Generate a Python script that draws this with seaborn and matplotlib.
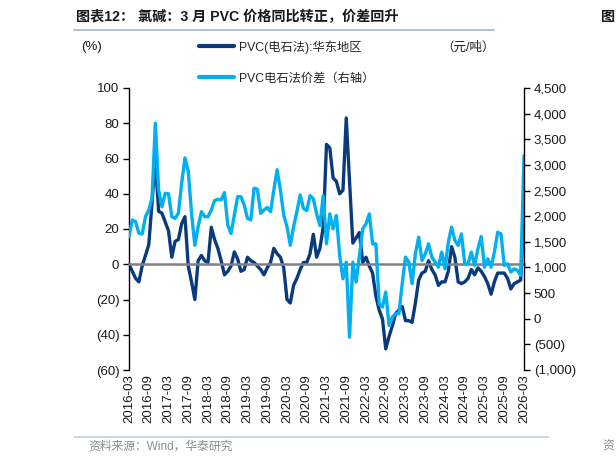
import numpy as np
import pandas as pd
import matplotlib
matplotlib.use("Agg")
import matplotlib.pyplot as plt
import seaborn as sns
from matplotlib.lines import Line2D
from matplotlib.ticker import FuncFormatter, MultipleLocator

sns.set_style("white")
plt.rcParams['font.family'] = ['Liberation Sans', 'Noto Sans CJK SC', 'DejaVu Sans']
plt.rcParams['axes.unicode_minus'] = False

# 月度数据 2016-03 ~ 2026-03
months = [str(p) for p in pd.period_range('2016-03', '2026-03', freq='M')]
tick_labels = months[::6]

# PVC(电石法):华东地区 同比 (%)
pvc_yoy = [
    0, -4, -8, -10, -1, 5, 11, 35, 60, 30, 29, 24, 19, 4, 13, 14, 23, 27, -1, -10,
    -20, 2, 5, 2, 1, 21, 14, 9, 2, -6, -4, -1, 7, 3, -4, -3, 4, 2, 1, -1,
    -3, -6, -2, 1, 9, 6, 4, -2, -20, -22, -12, -8, -3, 1, 1, 6, 17, 4, 9, 21,
    68, 66, 49, 47, 40, 42, 83, 47, 12, 15, 18, 1, 4, -1, -5, -18, -26, -31, -48, -41,
    -35, -28, -26, -24, -32, -32, -33, -22, -9, -5, -4, 2, -3, -6, -12, -10, -10, -4, 10, 4,
    -10, -11, -10, -8, -3, -6, -2, -4, -7, -11, -17, -10, -5, -5, -5, -8, -14, -11, -10, -9,
    30,
]

# PVC电石法价差 (元/吨, 右轴)
pvc_spread = [
    1600, 1926, 1893, 1666, 1653, 1990, 2120, 2349, 3812, 2512, 2185, 2447, 2436, 1990, 1957, 2056, 2644, 3137, 2874, 2056,
    1433, 1792, 2087, 1990, 1990, 2119, 2304, 2330, 2316, 2460, 1826, 1663, 2022, 2380, 2380, 2218, 1957, 1925, 2545, 2525,
    2056, 2119, 2170, 2087, 2512, 2906, 2512, 2022, 1792, 1433, 1792, 2087, 2414, 2153, 2108, 2402, 2338, 2045, 1818, 2402,
    1461, 2045, 1753, 2013, 1233, 779, 1104, -357, 1104, 714, 1233, 1753, 1850, 2045, 1461, 1461, 292, 227, 519, -130,
    32, 97, 97, 682, 1201, 1104, 682, 1266, 1591, 1136, 1266, 1461, 1201, 1104, 1006, 1299, 974, 1493, 1786, 1526,
    1429, 1656, 1071, 1071, 1299, 1039, 1363, 1604, 1006, 1169, 1006, 1299, 1688, 1656, 1039, 1071, 909, 974, 941, 844,
    3182,
]

df = pd.DataFrame({'idx': np.arange(len(months)), 'month': months,
                   'yoy': pvc_yoy, 'spread': pvc_spread})

DARK = '#0B3A7C'
LIGHT = '#00B0F0'
W, H = 616, 466

fig = plt.figure(figsize=(W / 100, H / 100), dpi=100)
ax = fig.add_axes([129 / W, 1 - 370 / H, 395 / W, 282 / H])
ax2 = ax.twinx()

sns.lineplot(data=df, x='idx', y='yoy', ax=ax, color=DARK, linewidth=2.4,
             label='PVC(电石法):华东地区')
sns.lineplot(data=df, x='idx', y='spread', ax=ax2, color=LIGHT, linewidth=2.4,
             label='PVC电石法价差（右轴）')
for a in (ax, ax2):
    if a.get_legend() is not None:
        a.get_legend().remove()
    a.set_xlabel('')
    a.set_ylabel('')

ax.set_xlim(0, len(months) - 1)
ax.set_ylim(-60, 100)
ax.yaxis.set_major_locator(MultipleLocator(20))
ax.yaxis.set_major_formatter(FuncFormatter(lambda v, p: f"({abs(v):.0f})" if v < 0 else f"{v:.0f}"))
ax2.set_ylim(-1000, 4500)
ax2.yaxis.set_major_locator(MultipleLocator(500))
ax2.yaxis.set_major_formatter(FuncFormatter(lambda v, p: f"({abs(v):,.0f})" if v < 0 else f"{v:,.0f}"))

# 横轴在0处, 刻度标签放在底部
ax.spines['bottom'].set_position(('data', 0))
ax.spines['bottom'].set_color('#808080')
ax.spines['bottom'].set_linewidth(1.8)
ax.spines['top'].set_visible(False)
ax.spines['right'].set_visible(False)
ax.spines['left'].set_color('black')
ax.spines['left'].set_linewidth(1.0)
ax.set_xticks(df['idx'][::6])
ax.tick_params(axis='x', direction='out', length=4, width=1, color='#404040', labelbottom=False)
ax.tick_params(axis='y', direction='out', length=4, width=1, color='black', labelsize=9.5,
               labelcolor='#1a1a1a', pad=3, left=True)

for s in ('top', 'bottom', 'left'):
    ax2.spines[s].set_visible(False)
ax2.spines['right'].set_color('black')
ax2.spines['right'].set_linewidth(1.0)
ax2.tick_params(axis='y', direction='out', length=4, width=1, color='black', labelsize=9.5,
                labelcolor='#1a1a1a', pad=3, right=True)

sec = ax.secondary_xaxis('bottom')
sec.set_xticks(df['idx'][::6], tick_labels, rotation=90)
sec.tick_params(length=0, labelsize=9.5, labelcolor='#1a1a1a', pad=3)
sec.spines['bottom'].set_visible(False)

ax.grid(False)
ax2.grid(False)

# 图例
handles = [Line2D([0], [0], color=DARK, lw=3), Line2D([0], [0], color=LIGHT, lw=3)]
fig.legend(handles, ['PVC(电石法):华东地区', 'PVC电石法价差（右轴）'],
           loc='upper left', bbox_to_anchor=(199 / W, 1 - 40 / H), frameon=False,
           fontsize=8.8, handlelength=2.9, handletextpad=0.35, labelspacing=1.55,
           borderpad=0, borderaxespad=0)

fig.text(81 / W, 1 - 47 / H, '(%)', fontsize=9.5, ha='left', va='center', color='#1a1a1a')
fig.text(441 / W, 1 - 48 / H, '（元/吨）', fontsize=9, ha='left', va='center', color='#1a1a1a')

# 标题与来源
fig.text(76 / W, 1 - 17 / H, '图表12： 氯碱：3 月 PVC 价格同比转正，价差回升',
         fontsize=10.2, fontweight='bold', ha='left', va='center', color='#1a1a1a')
fig.text(601 / W, 1 - 17 / H, '图', fontsize=10.2, fontweight='bold', ha='left', va='center', color='#1a1a1a')
fig.add_artist(Line2D([74 / W, 494 / W], [1 - 29.5 / H, 1 - 29.5 / H], color='#A9BCD0', lw=1.3))
fig.add_artist(Line2D([74 / W, 548 / W], [1 - 437 / H, 1 - 437 / H], color='#C5D2E0', lw=1.3))
fig.text(88 / W, 1 - 447 / H, '资料来源：Wind，华泰研究', fontsize=8.5, ha='left', va='center', color='#8C8C8C')
fig.text(602 / W, 1 - 447 / H, '资', fontsize=8.5, ha='left', va='center', color='#8C8C8C')

fig.savefig('out.png', dpi=100)
